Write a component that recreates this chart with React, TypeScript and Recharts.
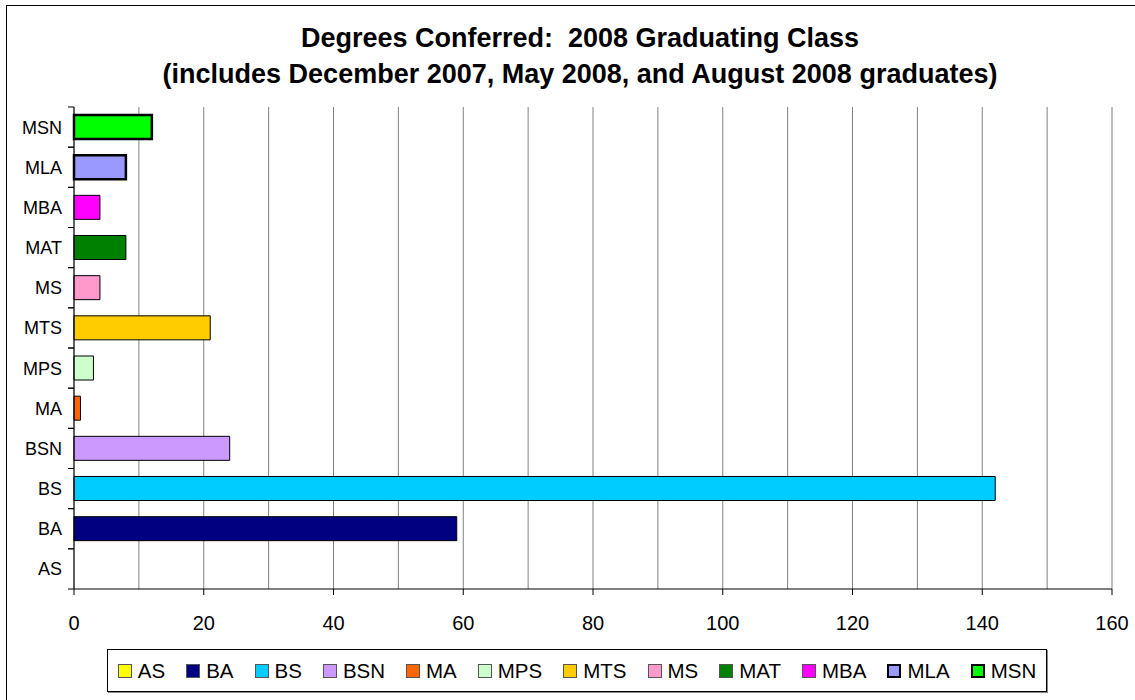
import React from "react";
import { Bar, BarChart, CartesianGrid, Cell, XAxis, YAxis } from "recharts";

// degree types, in legend order (bottom to top on the chart)
const degreeTypes = ["AS", "BA", "BS", "BSN", "MA", "MPS", "MTS", "MS", "MAT", "MBA", "MLA", "MSN"];
const graduates = [0, 59, 142, 24, 1, 3, 21, 4, 8, 4, 8, 12];
const barColors = [
  "#ffff00",
  "#000080",
  "#00ccff",
  "#cc99ff",
  "#ff6600",
  "#ccffcc",
  "#ffcc00",
  "#ff99cc",
  "#008000",
  "#ff00ff",
  "#9999ff",
  "#00ff00",
];
const thickOutline = ["MLA", "MSN"];
const gridTicks = [0, 10, 20, 30, 40, 50, 60, 70, 80, 90, 100, 110, 120, 130, 140, 150, 160];

const font = '"Liberation Sans", Arial, Helvetica, sans-serif';

const W = 1135;
const H = 700;
const margin = { top: 107, right: 23, bottom: 71, left: 0 };
const xAxisHeight = 40;
// half of one category band, used to put the y tick marks between categories
const halfBand = (H - margin.top - margin.bottom - xAxisHeight) / degreeTypes.length / 2;

const data = degreeTypes.map((name, i) => ({ name, value: graduates[i] }));

function XTick(props: any) {
  const { x, y, payload } = props;
  if (payload.value % 20 !== 0) return null;
  return (
    <g>
      <line x1={x} y1={y} x2={x} y2={y + 6} stroke="#000" strokeWidth={1} />
      <text x={x} y={y + 41} textAnchor="middle" fontSize={20} fontFamily={font} fill="#000">
        {payload.value}
      </text>
    </g>
  );
}

function YTick(props: any) {
  const { x, y, payload } = props;
  return (
    <g>
      <line x1={x - 6} y1={y - halfBand} x2={x} y2={y - halfBand} stroke="#000" strokeWidth={1} />
      <line x1={x - 6} y1={y + halfBand} x2={x} y2={y + halfBand} stroke="#000" strokeWidth={1} />
      <text x={x - 12} y={y + 6.5} textAnchor="end" fontSize={18} fontFamily={font} fill="#000">
        {payload.value}
      </text>
    </g>
  );
}

export default function App() {
  return (
    <div
      style={{
        position: "absolute",
        left: 0,
        top: 0,
        width: W,
        height: H,
        overflow: "hidden",
        background: "#fff",
        fontFamily: font,
      }}
    >
      <div
        style={{
          position: "absolute",
          left: 6,
          top: 5,
          width: 1200,
          height: 800,
          border: "1.5px solid #000",
        }}
      />
      <div
        style={{
          position: "absolute",
          left: 0,
          top: 20,
          width: 1160,
          textAlign: "center",
          fontWeight: "bold",
          fontSize: 27,
          lineHeight: "36px",
          color: "#000",
        }}
      >
        <div>Degrees Conferred:&nbsp; 2008 Graduating Class</div>
        <div>(includes December 2007, May 2008, and August 2008 graduates)</div>
      </div>

      <div style={{ position: "absolute", left: 0, top: 0 }}>
        <BarChart width={W} height={H} data={data} layout="vertical" margin={margin}>
          <CartesianGrid horizontal={false} stroke="#808080" strokeWidth={1} />
          <XAxis
            type="number"
            domain={[0, 160]}
            ticks={gridTicks}
            interval={0}
            height={xAxisHeight}
            axisLine={{ stroke: "#000", strokeWidth: 1 }}
            tickLine={false}
            tickSize={0}
            tickMargin={0}
            tick={<XTick />}
          />
          <XAxis
            xAxisId="top"
            orientation="top"
            type="number"
            domain={[0, 160]}
            height={0}
            tick={false}
            tickLine={false}
            axisLine={{ stroke: "#808080", strokeWidth: 1 }}
          />
          <YAxis
            type="category"
            dataKey="name"
            reversed
            width={74}
            interval={0}
            axisLine={{ stroke: "#000", strokeWidth: 1 }}
            tickLine={false}
            tickSize={0}
            tickMargin={0}
            tick={<YTick />}
          />
          <Bar dataKey="value" barSize={24} isAnimationActive={false}>
            {data.map((d, i) => (
              <Cell
                key={d.name}
                fill={barColors[i]}
                stroke="#000"
                strokeWidth={thickOutline.includes(d.name) ? 2.5 : 1}
              />
            ))}
          </Bar>
        </BarChart>
      </div>

      <div
        style={{
          position: "absolute",
          left: 107,
          top: 649,
          width: 940,
          height: 43,
          boxSizing: "border-box",
          border: "1px solid #000",
          boxShadow: "1px 1px 0 #888",
          display: "flex",
          alignItems: "center",
          justifyContent: "center",
          gap: 21,
          fontSize: 20.5,
          color: "#000",
        }}
      >
        {degreeTypes.map((name, i) => (
          <div key={name} style={{ display: "flex", alignItems: "center", gap: 6 }}>
            <span
              style={{
                display: "inline-block",
                width: 14,
                height: 14,
                boxSizing: "border-box",
                background: barColors[i],
                border: thickOutline.includes(name) ? "2.5px solid #000" : "1px solid #555",
              }}
            />
            <span style={{ lineHeight: "22px" }}>{name}</span>
          </div>
        ))}
      </div>
    </div>
  );
}
